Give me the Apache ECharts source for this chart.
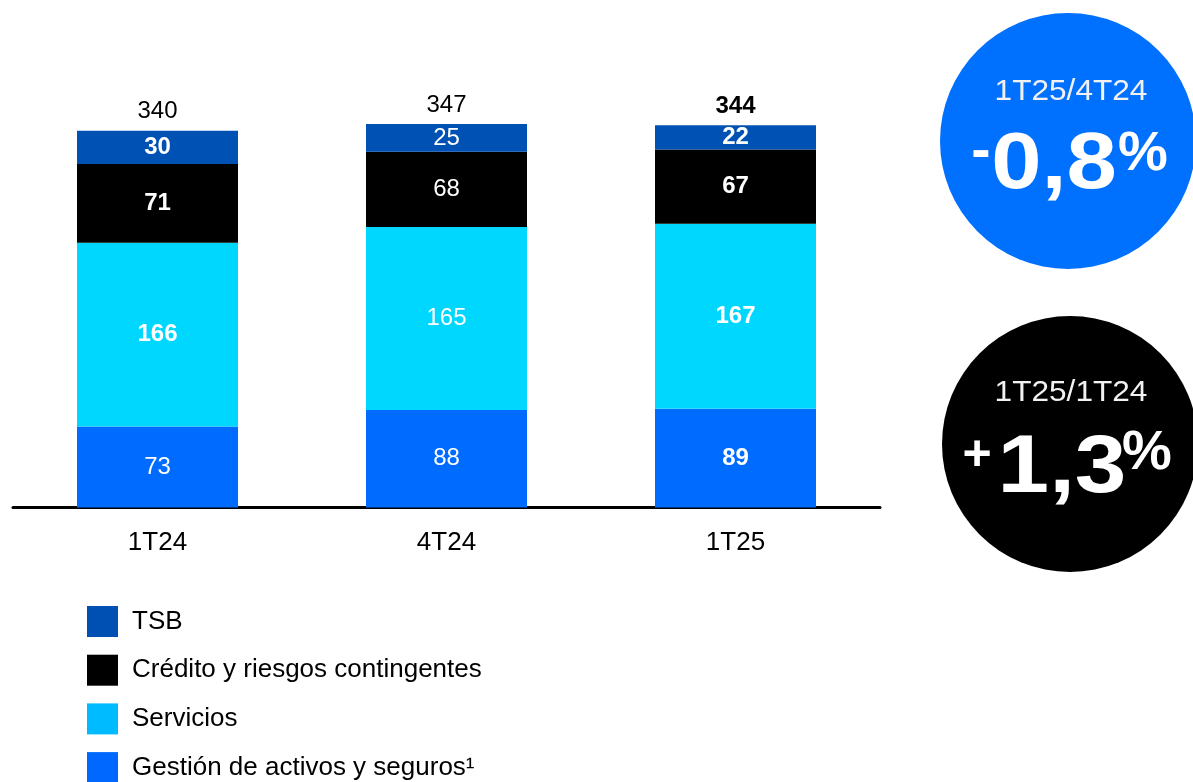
<!DOCTYPE html>
<html>
<head>
<meta charset="utf-8">
<script src="https://cdn.jsdelivr.net/npm/echarts@6/dist/echarts.min.js"></script>
<style>
  html, body { margin: 0; padding: 0; background: #ffffff; }
  #chart { width: 1193px; height: 782px; }
</style>
</head>
<body>
<div id="chart"></div>
<script>
// Margen básico por trimestre (M€)
const categories = ['1T24', '4T24', '1T25'];
const gestion = [73, 88, 89];        // Gestión de activos y seguros
const servicios = [166, 165, 167];   // Servicios
const credito = [71, 68, 67];        // Crédito y riesgos contingentes
const tsb = [30, 25, 22];            // TSB
const totals = [340, 347, 344];

const seriesNames = ['Gestión de activos y seguros¹', 'Servicios', 'Crédito y riesgos contingentes', 'TSB'];
const barColors = ['#006bff', '#00d7ff', '#000000', '#0051b4'];
const legendColors = { 'TSB': '#0050b4', 'Crédito y riesgos contingentes': '#000000', 'Servicios': '#00bbff', 'Gestión de activos y seguros¹': '#0068ff' };

// bold labels: per quarter, per series (gestion, servicios, credito, tsb, total)
const boldFlags = [
  [false, true, true, true, false],
  [false, false, false, false, false],
  [true, true, true, true, true]
];

const font = 'Liberation Sans, Arial, sans-serif';

function segData(values, si) {
  return values.map((v, i) => ({
    value: v,
    label: { fontWeight: boldFlags[i][si] ? 'bold' : 'normal' }
  }));
}

const segments = [gestion, servicios, credito, tsb];

const series = segments.map((vals, si) => ({
  name: seriesNames[si],
  type: 'bar',
  stack: 'total',
  barWidth: 161,
  itemStyle: { color: barColors[si] },
  label: {
    show: true,
    position: 'inside',
    color: '#ffffff',
    fontSize: 24,
    fontFamily: font
  },
  emphasis: { disabled: true },
  data: segData(vals, si)
}));

// totals shown above each stack
series.push({
  name: 'Total',
  type: 'bar',
  stack: 'total',
  barWidth: 161,
  itemStyle: { color: 'transparent' },
  label: {
    show: true,
    position: 'top',
    distance: 7,
    color: '#000000',
    fontSize: 24,
    fontFamily: font,
    formatter: p => String(totals[p.dataIndex])
  },
  emphasis: { disabled: true },
  data: totals.map((t, i) => ({ value: 0, label: { fontWeight: boldFlags[i][4] ? 'bold' : 'normal' } }))
});

const legendOrder = ['TSB', 'Crédito y riesgos contingentes', 'Servicios', 'Gestión de activos y seguros¹'];

// variation badges
const subStyle = (txt) => ({ text: txt, fill: '#f2f2f2', font: '29px ' + font, align: 'center', verticalAlign: 'middle' });
const bigStyle = (txt, size) => ({ text: txt, fill: '#ffffff', font: 'bold ' + size + 'px ' + font, align: 'center', verticalAlign: 'middle' });

const chart = echarts.init(document.getElementById('chart'), null, { renderer: 'canvas' });

chart.setOption({
  animation: false,
  backgroundColor: '#ffffff',
  grid: { left: 13, right: 313, top: 64.2, bottom: 274.5, containLabel: false },
  xAxis: {
    type: 'category',
    data: categories,
    axisLine: { show: true, lineStyle: { color: '#000000', width: 3 } },
    axisTick: { show: false },
    axisLabel: { color: '#000000', fontSize: 26, fontFamily: font, margin: 22 }
  },
  yAxis: {
    type: 'value',
    min: 0,
    max: 400,
    show: false,
    splitLine: { show: false }
  },
  legend: {
    orient: 'vertical',
    left: 87,
    top: 606,
    width: 600,
    height: 300,
    padding: 0,
    itemWidth: 31,
    itemHeight: 31,
    itemGap: 17.7,
    icon: 'rect',
    selectedMode: false,
    textStyle: { color: '#000000', fontSize: 26, fontFamily: font, padding: [7, 0, 0, 9] },
    data: legendOrder.map(n => ({ name: n, itemStyle: { color: legendColors[n] } }))
  },
  series: series,
  graphic: [
    { type: 'circle', shape: { cx: 1068, cy: 141, r: 128 }, style: { fill: '#0070ff' } },
    { type: 'text', x: 1071, y: 92, scaleX: 1.09, style: subStyle('1T25/4T24') },
    { type: 'text', x: 981, y: 153, style: bigStyle('-', 58) },
    { type: 'text', x: 1054, y: 166, scaleX: 1.13, style: bigStyle('0,8', 80) },
    { type: 'text', x: 1143, y: 155, style: bigStyle('%', 56) },

    { type: 'circle', shape: { cx: 1070, cy: 444, r: 128 }, style: { fill: '#000000' } },
    { type: 'text', x: 1071, y: 393, scaleX: 1.09, style: subStyle('1T25/1T24') },
    { type: 'text', x: 977, y: 456, style: bigStyle('+', 50) },
    { type: 'text', x: 1062, y: 469, scaleX: 1.13, style: bigStyle('1,3', 82) },
    { type: 'text', x: 1147, y: 454, style: bigStyle('%', 56) }
  ]
});
</script>
</body>
</html>
